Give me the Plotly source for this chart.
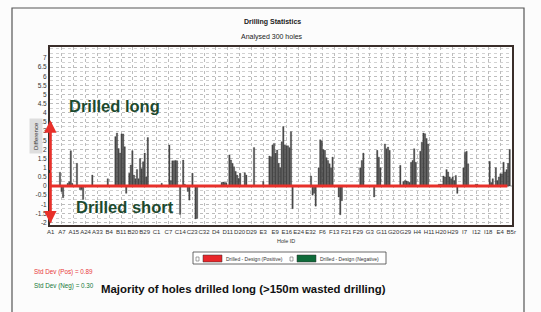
import plotly.graph_objects as go

# ---------------- data ----------------
hole_index = list(range(300))
differences = [
    0, 0, 0, 0, 0, 0, 0.75, -0.3, -0.64, 0,
    0, 0.15, 0.24, 1.93, 0.15, 0, 0, 1.24, 0, -0.2,
    -0.2, -0.73, 0, 0, 0, 0, 0, 0.6, 0, 0,
    0, 0, 0, 0, 0, 0, 0, 0.4, 0, 0,
    0, 0, 2.7, 2.9, 2.05, 1.8, 2.85, 2.85, 2.15, -0.4,
    0, 0.7, 1.15, 1.93, 0.6, 0.4, 0.9, 0.4, 1.5, 0.95,
    1.33, 1.8, 0.5, 2.65, 0, 0, 0, 0, 0, 0,
    0, 0, 0.15, 0, 0, 0, 0, 2.24, 0.3, 1.38,
    1.38, 1.4, 1.38, 0, -1.55, 0, 1.42, 0.1, 0, -0.3,
    -0.77, 0, 0.7, 0, -1.8, -1.77, 0, 0, 0, 0,
    0, 0, 0, 0, 0, 0, 0, 0, 0, 0,
    0, 0.2, 0.22, 0.2, 0.18, 0, 1.7, 1.42, 1.24, 1.05,
    0.8, 0.6, 0.42, 0.7, 0, 0, 0.73, 0.6, 0, 0,
    0, 0, 2.1, 0, 0, 0, 0, 0, 0.25, 0,
    0, 0, 1.64, 1.6, 2.24, 2.33, 1.8, 1.97, 1.24, 1.0,
    2.42, 3.25, 2.24, 2.2, 2.2, 2.1, 2.97, -1.24, 0, 0,
    0, 0, 0, 0, 0, 0, 0, 0, 0, 0.55,
    -0.5, -0.4, -1.1, 0, 1.0, 2.53, 2.46, 2.0, 1.95, 1.55,
    1.4, 1.22, 1.0, 1.58, 0, 0, 0, -0.6, -1.57, -0.8,
    0, 0, 0, 0, 0, 0, 0, 0, 0, 0,
    0, 1.0, 1.4, 1.8, 0, 0, 0, 0, 0, 0,
    -0.6, 0, 1.95, 1.58, 1.0, 0, 0, 2.3, 2.04, 2.13,
    1.95, 0, 0, 0, 0, 0, 0, 1.13, 0, 0.25,
    0.3, 0.28, 0.25, 0.2, 1.3, 1.4, 2.04, 1.3, 0, 0,
    1.9, 2.4, 2.9, 2.86, 2.6, 2.3, 0, 0, 0, 0,
    0, 0, 0.1, 0.1, 0.1, 0.55, 0.5, 0.9, 0.77, 0.5,
    0.4, 0.5, 0.3, 0.58, -0.4, 0, 0, 0, 1.0, 1.85,
    1.9, 1.22, 0, 0, 0, 0, 0.1, 0.1, 0, 0,
    0, 0, 0, 0, 0, 1.35, 0.2, 0.4, 0, 1.0,
    0.3, 0.5, 0.67, 0.67, 1.3, 0.77, 0.9, 1.24, 2.0, 0,
]
x_tick_labels = ["A1", "A7", "A15", "A24", "A33", "B4", "B11", "B20", "B29", "C1",
                 "C7", "C14", "C23", "C32", "D4", "D11", "D20", "D29", "E3", "E9",
                 "E16", "E24", "E32", "F6", "F13", "F21", "F29", "G3", "G11", "G20",
                 "G29", "H4", "H11", "H20", "H29", "I7", "I12", "I18", "E4", "B5r"]
x_tick_pos = [0, 7.2, 14.9, 22.6, 30.3, 38.0, 45.7, 53.3, 61.0, 68.7,
              76.4, 84.1, 91.8, 99.5, 107.2, 114.9, 122.6, 130.3, 138.0, 145.7,
              153.3, 161.0, 168.7, 176.4, 184.1, 191.8, 199.5, 207.2, 214.9, 222.6,
              230.3, 238.0, 245.7, 253.3, 261.0, 268.7, 276.4, 284.1, 291.8, 299]
y_tick_vals = [7, 6.5, 6, 5.5, 5, 4.5, 4, 3.5, 3, 2.5, 2, 1.5, 1, 0.5, 0, -0.5, -1, -1.5, -2]
y_tick_text = ["7", "6.5", "6", "5.5", "5", "4.5", "4", "3.5", "3", "2.5", "2", "1.5",
               "1", "0.5", "0", "-0.5", "-1", "-1.5", "-2"]
std_pos = 0.89
std_neg = 0.30

RED = "#e8302a"
GREEN_TXT = "#1d4a2f"
FONT = "Liberation Sans, Arial, sans-serif"

# plot area in pixels: x 50..512, y 47..225
L, R, T, B = 50, 29, 47, 87
PW, PH = 541 - L - R, 312 - T - B


def px(xp):
    return (xp - L) / PW


def py(yp):
    return (312 - B - yp) / PH


fig = go.Figure()
fig.add_trace(go.Bar(
    x=hole_index, y=differences,
    marker=dict(color="#505050", line=dict(color="#2a2a2a", width=0.3)),
    showlegend=False, hoverinfo="x+y",
))

fig.update_layout(
    width=541, height=312,
    margin=dict(l=L, r=R, t=T, b=B),
    paper_bgcolor="#fcfcfc", plot_bgcolor="#ffffff",
    bargap=0.12,
    font=dict(family=FONT, color="#333333"),
    xaxis=dict(
        range=[-0.5, 299.5], tickmode="array", tickvals=x_tick_pos, ticktext=x_tick_labels,
        tickangle=0, tickfont=dict(size=6, color="#333333"), ticks="",
        showgrid=True, gridcolor="#bdbdbd", griddash="dot", gridwidth=1,
        showline=True, linecolor="#3a2e2a", linewidth=2, mirror=True, zeroline=False,
        automargin=False,
    ),
    yaxis=dict(
        range=[-2.13, 7.6], tickmode="array", tickvals=y_tick_vals, ticktext=y_tick_text,
        tickfont=dict(size=6.5, color="#333333"), ticks="",
        showgrid=True, gridcolor="#bdbdbd", griddash="dot", gridwidth=1,
        minor=dict(dtick=0.25, showgrid=True, gridcolor="#d2d2d2", griddash="dot"),
        showline=True, linecolor="#3a2e2a", linewidth=2, mirror=True, zeroline=False,
        automargin=False,
    ),
)

shapes = []
# outer frame
shapes.append(dict(type="rect", xref="paper", yref="paper",
                   x0=px(12), x1=px(524), y0=py(330), y1=py(8),
                   line=dict(color="#555555", width=1.2), layer="below"))
# zero red line
shapes.append(dict(type="line", xref="x", yref="y", x0=-0.5, x1=296.5, y0=0, y1=0,
                   line=dict(color=RED, width=3)))
# vertical red line
shapes.append(dict(type="line", xref="x", yref="y", x0=-0.3, x1=-0.3, y0=-2.0, y1=3.5,
                   line=dict(color=RED, width=2.5)))
# legend box
shapes.append(dict(type="rect", xref="paper", yref="paper",
                   x0=px(193), x1=px(386), y0=py(264), y1=py(252),
                   line=dict(color="#444444", width=0.8), fillcolor="#ffffff"))
shapes.append(dict(type="rect", xref="paper", yref="paper",
                   x0=px(196), x1=px(199), y0=py(261), y1=py(257),
                   line=dict(color="#666666", width=0.6), fillcolor="#ffffff"))
shapes.append(dict(type="rect", xref="paper", yref="paper",
                   x0=px(203), x1=px(222), y0=py(262), y1=py(255),
                   line=dict(color="#333333", width=0.5), fillcolor="#e8262a"))
shapes.append(dict(type="rect", xref="paper", yref="paper",
                   x0=px(290), x1=px(293), y0=py(261), y1=py(257),
                   line=dict(color="#666666", width=0.6), fillcolor="#ffffff"))
shapes.append(dict(type="rect", xref="paper", yref="paper",
                   x0=px(297), x1=px(316), y0=py(262), y1=py(255),
                   line=dict(color="#333333", width=0.5), fillcolor="#0f6b3a"))
fig.update_layout(shapes=shapes)


def label(text, xp, yp, size, color, xanchor="left", **kw):
    return dict(text=text, x=px(xp), y=py(yp), xref="paper", yref="paper",
                xanchor=xanchor, yanchor="middle", showarrow=False,
                font=dict(size=size, color=color), **kw)


ann = []
# arrowheads
for ytip in (3.6, -2.05):
    ann.append(dict(x=-0.3, y=ytip, xref="x", yref="y", ax=-0.3, ay=0.8,
                    axref="x", ayref="y", showarrow=True, arrowhead=2, arrowsize=1,
                    arrowwidth=2.5, arrowcolor=RED, text=""))
ann += [
    label("<b>Drilling Statistics</b>", 272, 22, 7, "#222222", xanchor="center"),
    label("Analysed 300 holes", 272, 37, 7, "#222222", xanchor="center"),
    label("<b>Drilled long</b>", 67, 106, 16.5, GREEN_TXT),
    label("<b>Drilled short</b>", 74, 207, 16.5, GREEN_TXT),
    label("Difference", 36, 136, 6, "#333333", xanchor="center",
          textangle=-90, bgcolor="#dedede", borderpad=3),
    label("Hole ID", 286, 241, 5.5, "#333333", xanchor="center"),
    label("Drilled - Design (Positive)", 224, 258.5, 5, "#333333"),
    label("Drilled - Design (Negative)", 318, 258.5, 5, "#333333"),
    label(f"Std Dev (Pos) = {std_pos:.2f}", 32, 272, 6.3, "#e8393a"),
    label(f"Std Dev (Neg) = {std_neg:.2f}", 32, 286, 6.3, "#17783a"),
    label("<b>Majority of holes drilled long (&gt;150m wasted drilling)</b>",
          99, 289, 11.4, "#111111"),
]
fig.update_layout(annotations=ann)

fig.write_html("out.html", config={"displayModeBar": False},
               post_script="document.body.style.margin='0';document.body.style.padding='0';")
